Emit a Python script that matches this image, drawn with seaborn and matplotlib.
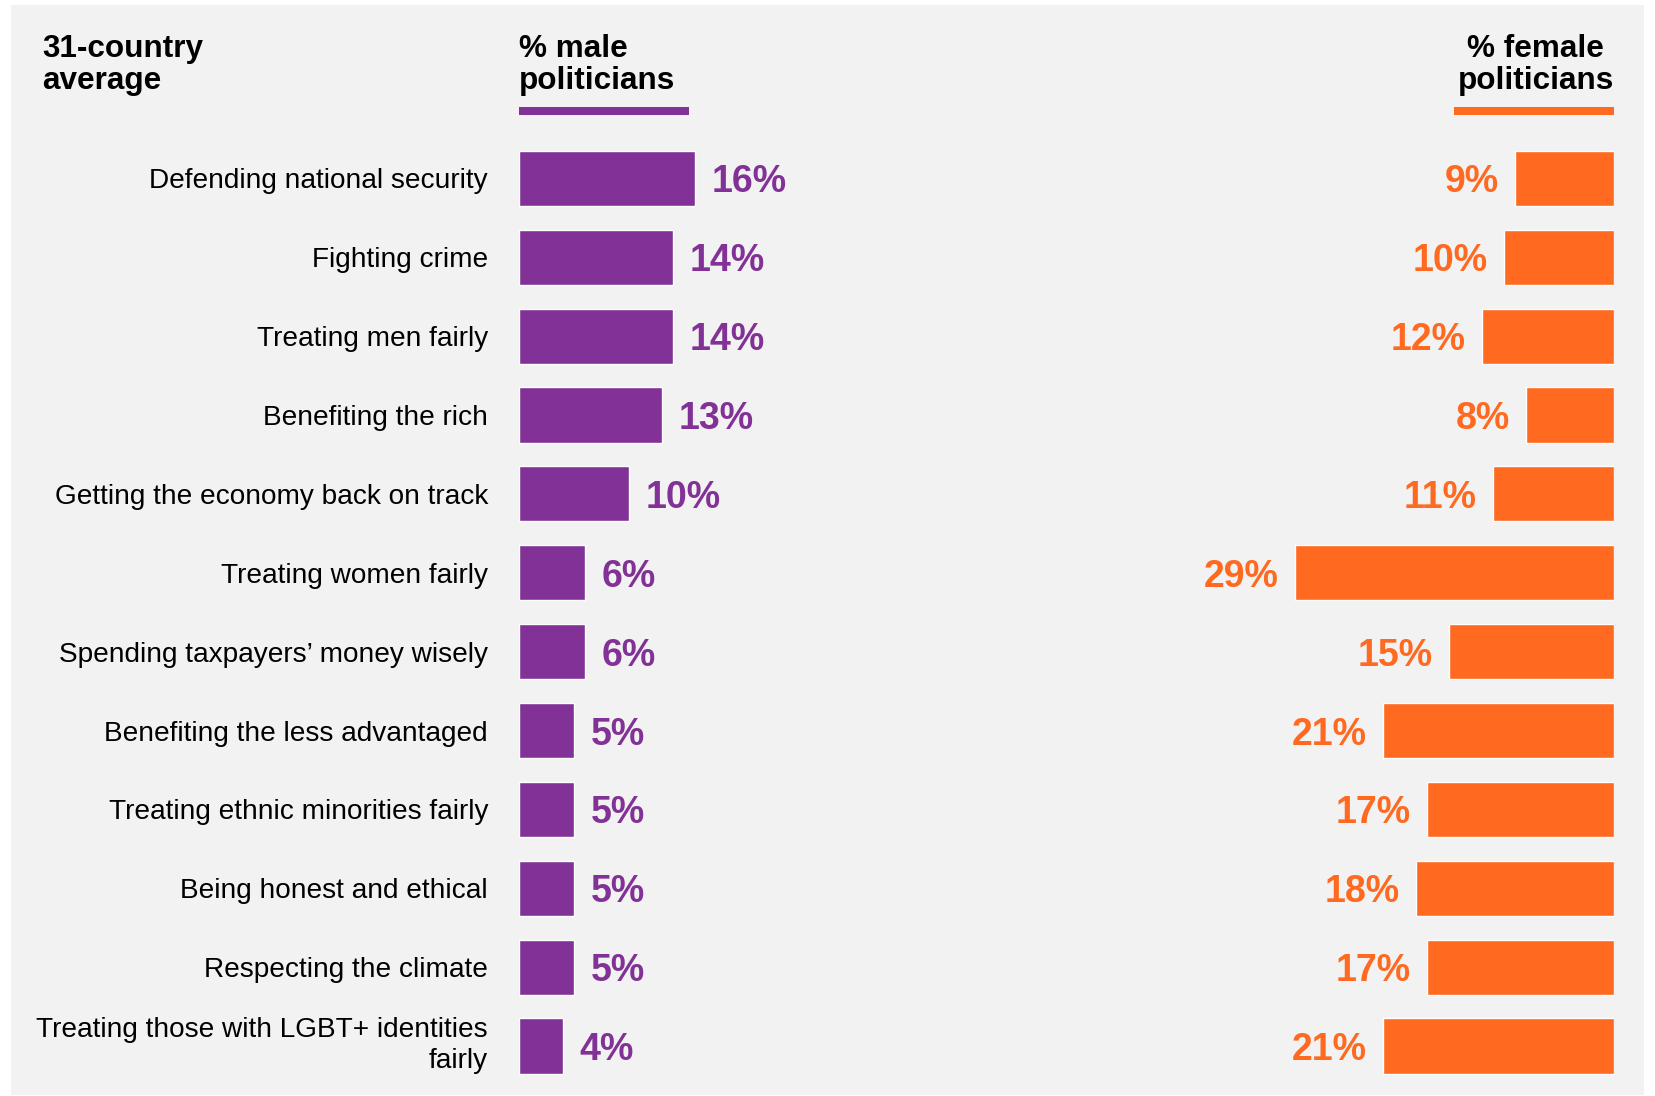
import matplotlib
matplotlib.use("Agg")
import matplotlib.pyplot as plt
from matplotlib.patches import Rectangle
import matplotlib.transforms as mtransforms
import seaborn as sns
import pandas as pd

categories = [
    "Defending national security",
    "Fighting crime",
    "Treating men fairly",
    "Benefiting the rich",
    "Getting the economy back on track",
    "Treating women fairly",
    "Spending taxpayers\u2019 money wisely",
    "Benefiting the less advantaged",
    "Treating ethnic minorities fairly",
    "Being honest and ethical",
    "Respecting the climate",
    "Treating those with LGBT+ identities\nfairly",
]
male_pct = [16, 14, 14, 13, 10, 6, 6, 5, 5, 5, 5, 4]
female_pct = [9, 10, 12, 8, 11, 29, 15, 21, 17, 18, 17, 21]

title_left = "31-country\naverage"
title_male = "% male\npoliticians"
title_female = "% female\npoliticians"

PURPLE = "#823296"
ORANGE = "#FF6920"
BG = "#F2F2F2"

df = pd.DataFrame({"category": categories, "male": male_pct, "female": female_pct})

sns.set_theme(style="white")
plt.rcParams["font.family"] = ["Liberation Sans", "DejaVu Sans"]

W, H = 1655, 1096
fig = plt.figure(figsize=(W / 100, H / 100), dpi=100)
fig.patch.set_facecolor("white")

def fx(px):
    return px / W

def fy(py):
    return 1 - py / H

# grey panel
fig.add_artist(Rectangle((fx(10.5), fy(1095)), fx(1643.5) - fx(10.5), fy(5.3) - fy(1095),
                         transform=fig.transFigure, facecolor=BG, edgecolor="none", zorder=0))

row_top = 178.4 - 0.5 * 78.87
row_bot = 1046.0 + 0.5 * 78.87
ax_bottom = 1 - row_bot / H
ax_height = (row_bot - row_top) / H
px_per_pct = 11.0
span = 40

ax_m = fig.add_axes([fx(519), ax_bottom, fx(px_per_pct * span), ax_height])
ax_f = fig.add_axes([fx(1614 - px_per_pct * span), ax_bottom, fx(px_per_pct * span), ax_height])

sns.barplot(data=df, x="male", y="category", orient="h", color=PURPLE, saturation=1,
            width=0.7, ax=ax_m)
sns.barplot(data=df, x="female", y="category", orient="h", color=ORANGE, saturation=1,
            width=0.7, ax=ax_f)

for ax in (ax_m, ax_f):
    ax.set_facecolor("none")
    for s in ax.spines.values():
        s.set_visible(False)
    ax.set_xlabel("")
    ax.set_ylabel("")
    ax.set_xticks([])
    ax.set_ylim(len(categories) - 0.5, -0.5)
    ax.grid(False)

ax_m.set_xlim(0, span)
ax_f.set_xlim(span, 0)

ax_m.tick_params(axis="y", length=0, pad=22.3)
for lab in ax_m.get_yticklabels():
    lab.set_fontsize(20.2)
    lab.set_color("black")
    lab.set_linespacing(1.25)
    if "\n" in lab.get_text():
        lab.set_transform(lab.get_transform() +
                          mtransforms.ScaledTranslation(0, 4 / 72, fig.dpi_scale_trans))
ax_f.set_yticks([])

lm = ax_m.bar_label(ax_m.containers[0], labels=[f"{v}%" for v in male_pct], padding=12,
                    fontsize=27, fontweight="bold", color=PURPLE)
lf = ax_f.bar_label(ax_f.containers[0], labels=[f"{v}%" for v in female_pct], padding=11.5,
                    fontsize=27, fontweight="bold", color=ORANGE)
for t in list(lm) + list(lf):
    t.set_verticalalignment("center_baseline")

# headers
hdr = dict(fontsize=22.7, fontweight="bold", color="black", va="baseline", linespacing=1.07)
fig.text(fx(42), fy(89), title_left, ha="left", **hdr)
fig.text(fx(519), fy(89), title_male, ha="left", **hdr)
fig.text(fx(1614), fy(89), title_female, ha="right", multialignment="center", **hdr)

fig.add_artist(Rectangle((fx(519), fy(114.7)), fx(689) - fx(519), fy(107.3) - fy(114.7),
                         transform=fig.transFigure, facecolor=PURPLE, edgecolor="none"))
fig.add_artist(Rectangle((fx(1453.5), fy(114.7)), fx(1614) - fx(1453.5), fy(107.3) - fy(114.7),
                         transform=fig.transFigure, facecolor=ORANGE, edgecolor="none"))

fig.savefig("out.png", dpi=100, facecolor="white")
